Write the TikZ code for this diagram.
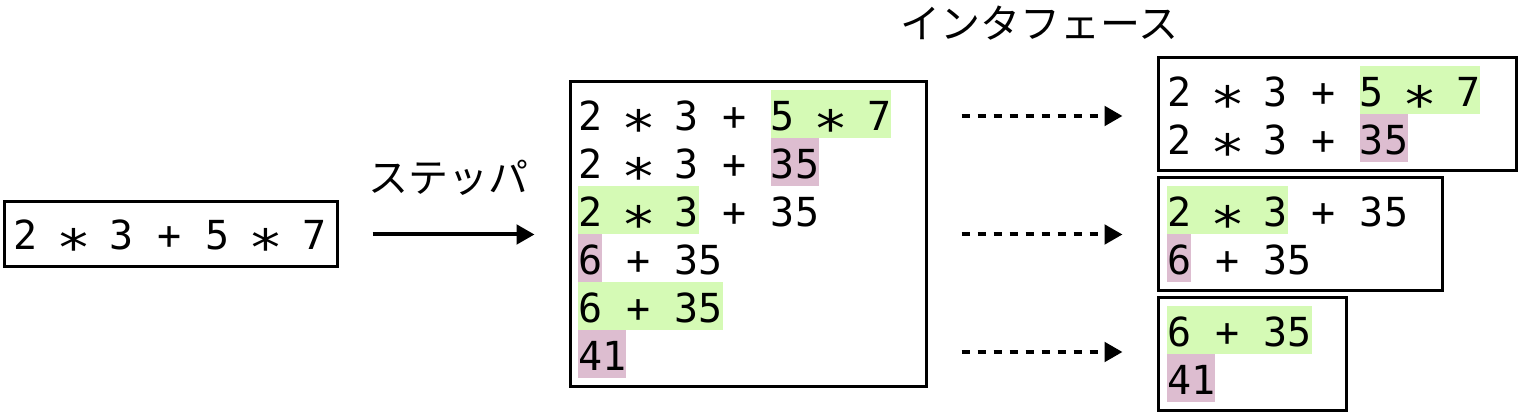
\documentclass[tikz,border=0pt]{standalone}
\usepackage{fontspec}
\usepackage{graphicx}
\setmainfont{DejaVu Sans Mono}
\newfontfamily\jpfont{Noto Sans CJK JP}
\usetikzlibrary{arrows.meta,fit}
\definecolor{hlgreen}{HTML}{D5FAB5}
\definecolor{hlpink}{HTML}{DDBDD0}
\newcommand\rowstrut{\vrule height 30pt depth 6pt width 0pt}
\newcommand\hgreen[1]{{\fboxsep=0pt\colorbox{hlgreen}{\rowstrut#1}}}
\newcommand\hpink[1]{{\fboxsep=0pt\colorbox{hlpink}{\rowstrut#1}}}
\newcommand\opstar{\makebox[0.602em]{\raisebox{-4.5pt}[0pt][0pt]{\scalebox{1.45}[1.25]{∗}}}}
\tikzset{
  exprow/.style={anchor=north west, inner sep=0pt, font=\fontsize{30pt}{36pt}\selectfont},
  boxframe/.style={draw, line width=2.25pt, inner sep=0pt},
  jplabel/.style={inner sep=0pt, font=\jpfont\fontsize{30pt}{36pt}\selectfont},
  solidarr/.style={line width=3pt, -{Triangle[length=13.5pt,width=14.5pt]}, shorten <=25.5pt, shorten >=25.5pt},
  dotarr/.style={solidarr, dash pattern=on 6pt off 6pt},
}
\begin{document}
\begin{tikzpicture}[x=0.75pt,y=-0.75pt]
\useasboundingbox (0,0) rectangle (1522,416);
% input
\node[exprow] (i1) at (13,209) {\rowstrut 2 \opstar{} 3 + 5 \opstar{} 7};
\node[boxframe, fit={(4,202) (337,267)}] (inp) {};
% big box rows
\node[exprow] (m1) at (578,90)  {\rowstrut 2 \opstar{} 3 + \hgreen{5 \opstar{} 7}};
\node[exprow] (m2) at (578,138) {\rowstrut 2 \opstar{} 3 + \hpink{35}};
\node[exprow] (m3) at (578,186) {\rowstrut \hgreen{2 \opstar{} 3} + 35};
\node[exprow] (m4) at (578,234) {\rowstrut \hpink{6} + 35};
\node[exprow] (m5) at (578,282) {\rowstrut \hgreen{6 + 35}};
\node[exprow] (m6) at (578,330) {\rowstrut \hpink{41}};
\node[boxframe, fit={(570,82) (926,387)}] (big) {};
% right boxes
\node[exprow] (a1) at (1167,66)  {\rowstrut 2 \opstar{} 3 + \hgreen{5 \opstar{} 7}};
\node[exprow] (a2) at (1167,114) {\rowstrut 2 \opstar{} 3 + \hpink{35}};
\node[boxframe, fit={(1158,58) (1516,171)}] (r1) {};
\node[exprow] (b1) at (1167,186) {\rowstrut \hgreen{2 \opstar{} 3} + 35};
\node[exprow] (b2) at (1167,234) {\rowstrut \hpink{6} + 35};
\node[boxframe, fit={(1158,178) (1442,291)}] (r2) {};
\node[exprow] (c1) at (1167,306) {\rowstrut \hgreen{6 + 35}};
\node[exprow] (c2) at (1167,354) {\rowstrut \hpink{41}};
\node[boxframe, fit={(1158,298) (1346,411)}] (r3) {};
% labels
\node[jplabel] (step) at (448,178) {ステッパ};
\node[jplabel] (iface) at (1039,23) {インタフェース};
% arrows
\coordinate (ya) at (0,116);
\coordinate (yc) at (0,352);
\draw[solidarr] (inp.east) -- (big.west);
\draw[dotarr] (big.east |- ya) -- (r1.west |- ya);
\draw[dotarr] (big.east) -- (r2.west);
\draw[dotarr] (big.east |- yc) -- (r3.west |- yc);
\end{tikzpicture}
\end{document}
